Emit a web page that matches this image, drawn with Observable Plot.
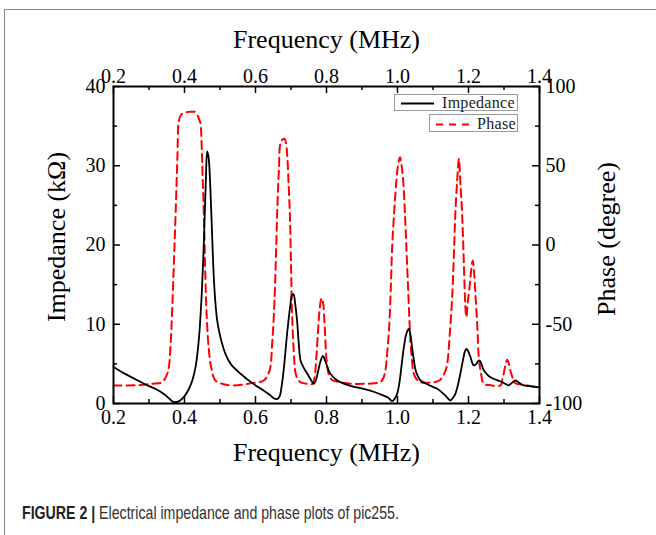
<!DOCTYPE html>
<html><head><meta charset="utf-8">
<script src="https://cdn.jsdelivr.net/npm/d3@7"></script>
<script src="https://cdn.jsdelivr.net/npm/@observablehq/plot@0.6"></script>
<style>
html,body{margin:0;padding:0;background:#fff;overflow:hidden;}
#wrap{position:relative;width:656px;height:535px;overflow:hidden;background:#fff;}
#border{position:absolute;left:4px;top:9px;width:700px;height:600px;border-left:1px solid #8a8a8a;border-top:1px solid #8a8a8a;}
#chart{position:absolute;left:0;top:0;}
.leg{position:absolute;background:#fff;border:1px solid #9a9a9a;box-sizing:border-box;font-family:"Liberation Serif","Times New Roman",serif;font-size:16px;color:#222;}
.leg svg{position:absolute;left:0;top:0;}
.leg span{position:absolute;white-space:nowrap;line-height:16px;}
#caption{position:absolute;left:22px;top:502px;font-family:"Liberation Sans",Arial,sans-serif;font-size:19px;color:#333;white-space:nowrap;transform:scaleX(0.745);transform-origin:left center;}
#caption b{color:#222;}
</style></head>
<body>
<div id="wrap">
  <div id="border"></div>
  <div id="chart"></div>
  <div class="leg" style="left:394px;top:94px;width:124px;height:17px;">
    <svg width="50" height="17"><line x1="6" y1="8.5" x2="39" y2="8.5" stroke="#000" stroke-width="2"/></svg>
    <span style="left:47px;top:0px;letter-spacing:0.3px;">Impedance</span>
  </div>
  <div class="leg" style="left:429px;top:114px;width:89px;height:18px;">
    <svg width="50" height="18"><line x1="6" y1="9.5" x2="42" y2="9.5" stroke="#ff0000" stroke-width="2" stroke-dasharray="7,6"/></svg>
    <span style="left:47px;top:1px;letter-spacing:0.3px;">Phase</span>
  </div>
  <div id="caption"><b>FIGURE 2 |</b> Electrical impedance and phase plots of pic255.</div>
</div>
<script>
// Impedance curve (kΩ) vs frequency (MHz)
const impedanceFreq = [0.200,0.230,0.260,0.290,0.320,0.342,0.360,0.370,0.385,0.398,0.412,0.422,0.432,0.440,0.447,0.454,0.460,0.464,0.468,0.473,0.478,0.483,0.488,0.492,0.500,0.515,0.530,0.558,0.590,0.623,0.640,0.650,0.661,0.668,0.673,0.680,0.689,0.697,0.703,0.707,0.712,0.717,0.722,0.727,0.736,0.746,0.756,0.764,0.770,0.776,0.783,0.790,0.797,0.805,0.811,0.825,0.839,0.870,0.905,0.935,0.961,0.975,0.985,0.992,0.999,1.006,1.012,1.018,1.025,1.032,1.037,1.041,1.046,1.051,1.058,1.065,1.085,1.112,1.125,1.135,1.143,1.149,1.156,1.163,1.170,1.177,1.185,1.190,1.194,1.199,1.206,1.210,1.215,1.222,1.228,1.232,1.237,1.243,1.252,1.262,1.280,1.295,1.305,1.314,1.322,1.332,1.340,1.348,1.356,1.375,1.400];
const impedanceKOhm = [4.6,3.8,3.1,2.4,1.8,1.2,0.5,0.17,0.3,0.8,1.8,2.9,4.8,7.9,12.5,19.7,28,31.8,31,27,21,15.5,12.2,10.5,8.6,6.3,5.0,3.75,2.6,1.64,1.1,0.7,0.55,0.9,2.0,4.5,8.8,12.0,13.7,13.8,12.5,10.5,7.5,5.4,4.5,3.75,3.0,2.48,2.9,4.0,5.3,6.0,5.3,4.3,3.75,3.1,2.7,2.2,1.85,1.45,1.0,0.7,0.3,0.6,1.22,2.8,5.0,7.1,8.8,9.4,8.5,7.1,5.5,4.2,3.4,2.9,2.4,1.85,1.4,1.0,0.6,0.38,0.7,1.22,2.3,3.75,5.6,6.6,6.9,6.6,5.8,5.2,4.8,5.0,5.4,5.4,4.9,4.2,3.7,3.3,2.95,2.7,2.45,2.3,2.6,2.9,2.7,2.45,2.3,2.15,2.05];

// Phase curve (degree) vs frequency (MHz)
const phaseFreq = [0.200,0.240,0.276,0.310,0.337,0.350,0.356,0.361,0.365,0.370,0.375,0.380,0.384,0.390,0.398,0.415,0.431,0.440,0.445,0.448,0.450,0.455,0.459,0.463,0.468,0.475,0.487,0.510,0.539,0.580,0.623,0.635,0.642,0.647,0.652,0.657,0.661,0.666,0.670,0.676,0.682,0.686,0.689,0.693,0.697,0.700,0.703,0.708,0.713,0.720,0.727,0.745,0.760,0.766,0.771,0.776,0.781,0.786,0.790,0.795,0.800,0.806,0.815,0.839,0.870,0.905,0.935,0.952,0.960,0.966,0.971,0.976,0.981,0.985,0.991,0.997,1.002,1.007,1.011,1.016,1.021,1.025,1.030,1.035,1.040,1.046,1.055,1.065,1.102,1.118,1.126,1.134,1.140,1.147,1.154,1.159,1.163,1.168,1.173,1.177,1.182,1.187,1.191,1.194,1.198,1.203,1.208,1.212,1.216,1.220,1.225,1.229,1.236,1.243,1.260,1.290,1.295,1.299,1.304,1.309,1.314,1.318,1.323,1.328,1.340,1.365,1.400];
const phaseDeg = [-88.6,-88.6,-88.4,-87.5,-86.6,-82,-77,-62,-43,-12,20,55,78,82,83.4,84,83.8,80,76.5,65,51,15,-22,-47,-64.5,-77,-85.5,-87.8,-88.6,-87.5,-85.5,-82,-77,-62,-43,-12,20,48,63.8,66.5,67,64,58,40,18,-12,-43,-68,-81,-85,-86.6,-87.5,-87.6,-84,-72,-55,-40,-33.5,-36,-52,-72,-81.3,-85,-86.6,-87.5,-87.6,-87.2,-86.6,-84,-79,-68,-54,-28,-1.4,22,40.7,51,55.4,51,40.7,20,-1.4,-28,-54,-71,-81.3,-85,-86.6,-86.6,-85.5,-83.4,-80,-75,-57,-33,-5,20,40,54.4,40,19.7,-12,-38,-45.6,-36,-26.6,-15,-9.8,-18,-33,-52,-70.8,-82,-87.6,-88.4,-88.6,-85,-81.3,-76,-72.4,-75,-79.2,-83,-86.6,-87.8,-88.6,-89.7];

// Axis ticks
const xTicks = [0.2,0.4,0.6,0.8,1.0,1.2,1.4];
const xMinor = [0.3,0.5,0.7,0.9,1.1,1.3];
const impTicks = [0,10,20,30,40];
const impMinor = [5,15,25,35];
const phaseTicks = [-100,-50,0,50,100];
const phaseMinor = [-75,-25,25,75];
const impDomain = [0,40];
const phaseDomain = [-100,100];

// map phase onto the impedance scale (twin axis)
const toImp = p => impDomain[0] + (p - phaseDomain[0]) / (phaseDomain[1] - phaseDomain[0]) * (impDomain[1] - impDomain[0]);
const fromImp = z => phaseDomain[0] + (z - impDomain[0]) / (impDomain[1] - impDomain[0]) * (phaseDomain[1] - phaseDomain[0]);

const impData = impedanceFreq.map((f,i) => ({f, z: impedanceKOhm[i]}));
const phaseData = phaseFreq.map((f,i) => ({f, z: toImp(phaseDeg[i])}));

const W = 656, H = 470, mT = 86, mR = 117, mB = 67, mL = 113;
const fw = W - mL - mR, fh = H - mT - mB;
const major = 7, minor = 4;
const fmt = d3.format(".1f");

const chart = Plot.plot({
  width: W, height: H,
  marginTop: mT, marginRight: mR, marginBottom: mB, marginLeft: mL,
  style: {fontFamily: "'Liberation Serif','Times New Roman',serif", fontSize: "20px", color: "#000", background: "transparent"},
  x: {domain: [0.2, 1.4]},
  y: {domain: impDomain},
  marks: [
    Plot.line(phaseData, {x: "f", y: "z", stroke: "#ff0000", strokeWidth: 2, strokeDasharray: "8,5", curve: "catmull-rom"}),
    Plot.line(impData, {x: "f", y: "z", stroke: "#000", strokeWidth: 1.8, curve: "catmull-rom"}),
    // inward ticks
    Plot.tickX(xTicks, {x: d => d, insetTop: fh - major, stroke: "#000", strokeWidth: 1.5}),
    Plot.tickX(xTicks, {x: d => d, insetBottom: fh - major, stroke: "#000", strokeWidth: 1.5}),
    Plot.tickX(xMinor, {x: d => d, insetTop: fh - minor, stroke: "#000", strokeWidth: 1.5}),
    Plot.tickX(xMinor, {x: d => d, insetBottom: fh - minor, stroke: "#000", strokeWidth: 1.5}),
    Plot.tickY(impTicks, {y: d => d, insetRight: fw - major, stroke: "#000", strokeWidth: 1.5}),
    Plot.tickY(impMinor, {y: d => d, insetRight: fw - minor, stroke: "#000", strokeWidth: 1.5}),
    Plot.tickY(phaseTicks.map(toImp), {y: d => d, insetLeft: fw - major, stroke: "#000", strokeWidth: 1.5}),
    Plot.tickY(phaseMinor.map(toImp), {y: d => d, insetLeft: fw - minor, stroke: "#000", strokeWidth: 1.5}),
    Plot.frame({stroke: "#000", strokeWidth: 2}),
    // tick labels
    Plot.axisX({anchor: "bottom", ticks: xTicks, tickSize: 0, tickPadding: 6, tickFormat: fmt, label: null}),
    Plot.axisX({anchor: "top", ticks: xTicks, tickSize: 0, tickPadding: 4, tickFormat: fmt, label: null}),
    Plot.axisY({anchor: "left", ticks: impTicks, tickSize: 0, tickPadding: 8, tickFormat: d => String(d), label: null}),
    Plot.axisY({anchor: "right", ticks: phaseTicks.map(toImp), tickSize: 0, tickPadding: 6, tickFormat: z => String(Math.round(fromImp(z))), label: null}),
    // axis titles
    Plot.text(["Frequency (MHz)"], {frameAnchor: "bottom", dy: 49, fontSize: 26, lineAnchor: "middle", textAnchor: "middle"}),
    Plot.text(["Frequency (MHz)"], {frameAnchor: "top", dy: -47, fontSize: 26, lineAnchor: "middle", textAnchor: "middle"}),
    Plot.text(["Impedance (kΩ)"], {frameAnchor: "left", dx: -57, dy: -8, rotate: -90, fontSize: 26, lineAnchor: "middle", textAnchor: "middle"}),
    Plot.text(["Phase (degree)"], {frameAnchor: "right", dx: 67, dy: -6, rotate: -90, fontSize: 26, lineAnchor: "middle", textAnchor: "middle"})
  ]
});
document.getElementById("chart").appendChild(chart);
</script>
</body></html>
